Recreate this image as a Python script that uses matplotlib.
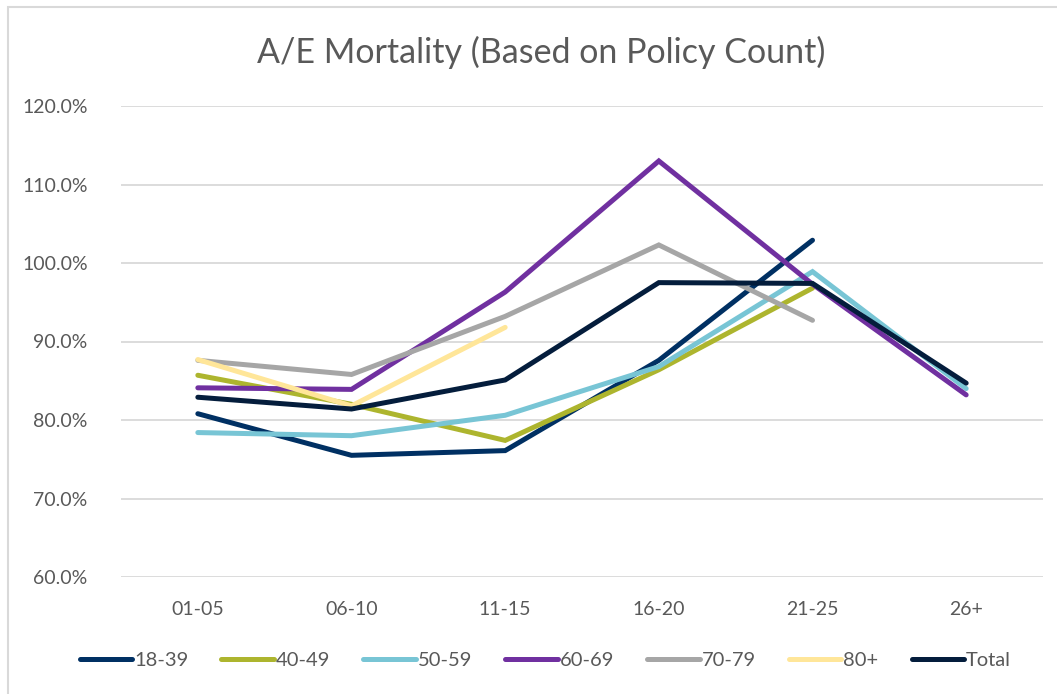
import numpy as np
import matplotlib
matplotlib.use("Agg")
import matplotlib.pyplot as plt
from matplotlib.patches import Rectangle

categories = ["01-05", "06-10", "11-15", "16-20", "21-25", "26+"]
nan = np.nan
s_18_39 = [80.8, 75.5, 76.1, 87.6, 102.9, nan]
s_40_49 = [85.7, 82.0, 77.4, 86.4, 96.8, nan]
s_50_59 = [78.4, 78.0, 80.6, 86.8, 98.9, 84.0]
s_60_69 = [84.1, 83.9, 96.3, 113.0, 97.3, 83.2]
s_70_79 = [87.6, 85.8, 93.2, 102.3, 92.7, nan]
s_80p = [87.7, 81.8, 91.8, nan, nan, nan]
s_total = [82.9, 81.4, 85.1, 97.5, 97.4, 84.7]

series_names = ["18-39", "40-49", "50-59", "60-69", "70-79", "80+", "Total"]
series_vals = [s_18_39, s_40_49, s_50_59, s_60_69, s_70_79, s_80p, s_total]
colors = ["#003063", "#ADB52E", "#78C5D5", "#7030A0", "#A6A6A6", "#FFE699", "#041D3C"]
y_ticks = [60, 70, 80, 90, 100, 110, 120]

plt.rcParams['font.family'] = ['Lato', 'DejaVu Sans']
fig = plt.figure(figsize=(10.57, 6.94), dpi=100)
fig.patch.set_facecolor("white")

# chart border (partially visible)
fig.patches.append(Rectangle((8/1057, -0.1), 1.2, 1 - 7.5/694 + 0.1, transform=fig.transFigure,
                             fill=False, edgecolor="#D9D9D9", linewidth=1.5))

ax = fig.add_axes([121/1057, 1 - 577/694, (1043 - 121)/1057, (577 - 106)/694])
x = np.arange(len(categories))
for name, vals, c in zip(series_names, series_vals, colors):
    ax.plot(x, vals, color=c, linewidth=3.6, solid_capstyle='round', solid_joinstyle='miter', label=name)

ax.set_xlim(-0.5, len(categories) - 0.5)
ax.set_ylim(60, 120)
ax.set_yticks(y_ticks)
ax.set_yticklabels([f"{v:.1f}%" for v in y_ticks])
ax.set_xticks(x)
ax.set_xticklabels(categories)
ax.tick_params(axis='both', length=0, labelsize=14, colors="#595959")
ax.tick_params(axis='y', pad=24)
ax.tick_params(axis='x', pad=17)
ax.grid(axis='y', color="#D9D9D9", linewidth=1.3)
ax.set_axisbelow(True)
for sp in ax.spines.values():
    sp.set_visible(False)

fig.text(0.512, 1 - 52/694, "A/E Mortality (Based on Policy Count)", ha='center', va='center',
         fontsize=24.5, color="#595959")

leg = fig.legend(*ax.get_legend_handles_labels(), loc='center', bbox_to_anchor=(0.516, 1 - 660/694),
                 ncol=7, frameon=False, fontsize=14.5, handlelength=2.6, handletextpad=0.1,
                 columnspacing=1.65, labelcolor="#595959")

fig.savefig("out.png", dpi=100, facecolor="white")
